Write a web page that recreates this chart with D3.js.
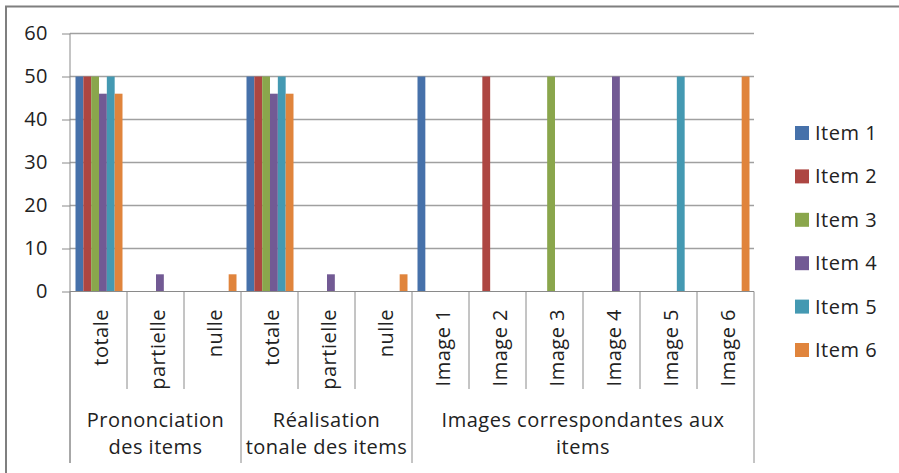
<!DOCTYPE html>
<html>
<head>
<meta charset="utf-8">
<script src="https://d3js.org/d3.v7.min.js"></script>
<style>
  body { margin: 0; background: #fff; }
  svg text { font-family: "Open Sans", "Noto Sans", sans-serif; fill: #222; letter-spacing: 0.5px; }
  .grid line { stroke: #a0a0a0; stroke-width: 1.3px; }
  .axis line, .axis path { stroke: #8a8a8a; }
</style>
</head>
<body>
<script>
// chart data
var categories = ["totale", "partielle", "nulle", "totale", "partielle", "nulle",
                  "Image 1", "Image 2", "Image 3", "Image 4", "Image 5", "Image 6"];
var groups = [
  {lines: ["Prononciation", "des items"], start: 0, end: 3},
  {lines: ["Réalisation", "tonale des items"], start: 3, end: 6},
  {lines: ["Images correspondantes aux", "items"], start: 6, end: 12}
];
var items = ["Item 1", "Item 2", "Item 3", "Item 4", "Item 5", "Item 6"];
var item1 = [50, 0, 0, 50, 0, 0, 50, 0, 0, 0, 0, 0];
var item2 = [50, 0, 0, 50, 0, 0, 0, 50, 0, 0, 0, 0];
var item3 = [50, 0, 0, 50, 0, 0, 0, 0, 50, 0, 0, 0];
var item4 = [46, 4, 0, 46, 4, 0, 0, 0, 0, 50, 0, 0];
var item5 = [50, 0, 0, 50, 0, 0, 0, 0, 0, 0, 50, 0];
var item6 = [46, 0, 4, 46, 0, 4, 0, 0, 0, 0, 0, 50];
var yTicks = [0, 10, 20, 30, 40, 50, 60];

var series = [item1, item2, item3, item4, item5, item6];
var colors = ["#4671aa", "#ad4642", "#8aa64c", "#725a94", "#4499b2", "#e0843c"];

var W = 899, H = 473;
var pLeft = 70, pRight = 754, pTop = 33.5, pBottom = 291.5;
var fs = "20px";

var svg = d3.select("body").append("svg")
    .attr("width", W).attr("height", H);

// chart border (cropped on the right and bottom)
svg.append("line").attr("x1", 5).attr("x2", W).attr("y1", 6.5).attr("y2", 6.5)
    .attr("stroke", "#7f7f7f").attr("stroke-width", 2);
svg.append("line").attr("x1", 6).attr("x2", 6).attr("y1", 6).attr("y2", H)
    .attr("stroke", "#7f7f7f").attr("stroke-width", 2);

var x0 = d3.scaleBand().domain(d3.range(categories.length)).range([pLeft, pRight]);
var x1 = d3.scaleBand().domain(d3.range(items.length))
    .range([5.5, x0.bandwidth() - 4.5]);
var y = d3.scaleLinear().domain([0, 60]).range([pBottom, pTop]);

// gridlines
svg.append("g").attr("class", "grid")
  .selectAll("line").data(yTicks.filter(function(d) { return d > 0; }))
  .enter().append("line")
    .attr("x1", pLeft).attr("x2", pRight)
    .attr("y1", function(d) { return y(d); })
    .attr("y2", function(d) { return y(d); });

// y axis
var yAxis = svg.append("g").attr("class", "axis")
    .attr("transform", "translate(" + pLeft + ",0)")
    .call(d3.axisLeft(y).tickValues(yTicks).tickSize(8).tickPadding(14));
yAxis.selectAll("text").style("font-size", fs).attr("fill", "#222");
yAxis.select(".domain").attr("d", "M0," + pTop + "V463");

// bars
var barG = svg.append("g");
series.forEach(function(vals, i) {
  barG.selectAll("rect.s" + i)
    .data(vals.map(function(v, j) { return {v: v, c: j}; }).filter(function(d) { return d.v > 0; }))
    .enter().append("rect")
      .attr("class", "s" + i)
      .attr("x", function(d) { return x0(d.c) + x1(i); })
      .attr("width", x1.bandwidth())
      .attr("y", function(d) { return y(d.v); })
      .attr("height", function(d) { return y(0) - y(d.v); })
      .attr("fill", colors[i]);
});

// x axis line
svg.append("line").attr("x1", pLeft).attr("x2", pRight)
    .attr("y1", pBottom).attr("y2", pBottom).attr("stroke", "#8a8a8a");

// category separators
var xa = svg.append("g").attr("class", "axis");
d3.range(categories.length + 1).forEach(function(k) {
  var isGroup = groups.some(function(g) { return g.start === k || g.end === k; });
  var xx = k < categories.length ? x0(k) : pRight;
  xa.append("line").attr("x1", xx).attr("x2", xx)
    .attr("y1", pBottom).attr("y2", isGroup ? 463 : 389);
});

// category labels
xa.selectAll("text.cat").data(categories).enter().append("text")
    .attr("class", "cat")
    .attr("transform", function(d, i) {
      return "translate(" + (x0(i) + x0.bandwidth() / 2 + 2) + ",309) rotate(-90)";
    })
    .attr("text-anchor", "end")
    .attr("dy", "0.35em")
    .style("font-size", fs)
    .text(function(d) { return d; });

// group labels
groups.forEach(function(g) {
  var cx = (x0(g.start) + (g.end < categories.length ? x0(g.end) : pRight)) / 2;
  g.lines.forEach(function(t, li) {
    xa.append("text").attr("x", cx).attr("y", 420 + li * 27)
      .attr("dy", "0.35em").attr("text-anchor", "middle")
      .style("font-size", fs).text(t);
  });
});

// legend
var leg = svg.append("g");
items.forEach(function(name, i) {
  var cy = 133 + i * 43.4;
  leg.append("rect").attr("x", 795).attr("y", cy - 7).attr("width", 14).attr("height", 14)
    .attr("fill", colors[i]);
  leg.append("text").attr("x", 815).attr("y", cy).attr("dy", "0.35em")
    .style("font-size", fs).text(name);
});
</script>
</body>
</html>
